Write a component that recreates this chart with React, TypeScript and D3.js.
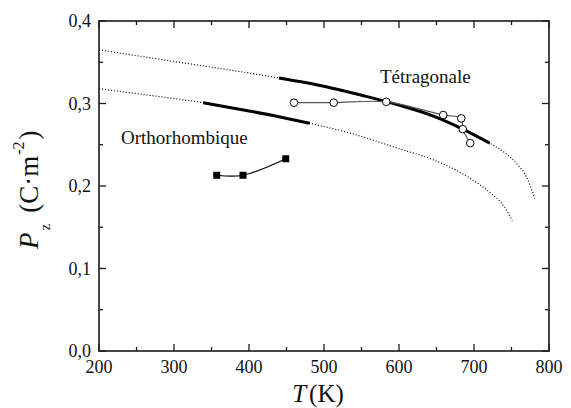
import React from "react";
import * as d3 from "d3";

// Theoretical curve, tetragonal phase
const tetraT = [200, 250, 300, 350, 400, 440, 500, 550, 600, 645, 685, 721, 740, 757, 770, 781];
const tetraP = [0.365, 0.358, 0.351, 0.344, 0.337, 0.331, 0.321, 0.310, 0.298, 0.285, 0.269, 0.252, 0.241, 0.227, 0.211, 0.185];
const tetraThick = [440, 721];

// Theoretical curve, orthorhombic phase
const orthoT = [200, 250, 300, 339, 400, 440, 481, 535, 601, 645, 690, 720, 741, 751];
const orthoP = [0.318, 0.312, 0.306, 0.301, 0.291, 0.284, 0.276, 0.264, 0.245, 0.232, 0.212, 0.193, 0.174, 0.158];
const orthoThick = [339, 481];

// Experimental points
const circT = [460, 513, 583, 659, 683, 685, 695];
const circP = [0.301, 0.301, 0.302, 0.286, 0.282, 0.269, 0.252];
const sqT = [357, 392, 449];
const sqP = [0.213, 0.213, 0.233];

const xMajor = [200, 300, 400, 500, 600, 700, 800];
const xMinor = [250, 350, 450, 550, 650, 750];
const yMajor = [0, 0.1, 0.2, 0.3, 0.4];
const yMinor = [0.05, 0.15, 0.25, 0.35];
const yLabels = ["0,0", "0,1", "0,2", "0,3", "0,4"];

const W = 571;
const H = 408;
const L = 99, R = 549, T = 21, B = 351;

const FONT = '"Liberation Serif", Tinos, "DejaVu Serif", "Noto Serif", "Times New Roman", serif';

export default function App() {
  const x = d3.scaleLinear().domain([200, 800]).range([L, R]);
  const y = d3.scaleLinear().domain([0, 0.4]).range([B, T]);

  const zip = (a: number[], b: number[]) => a.map((v, i) => [v, b[i]] as [number, number]);
  const tetra = zip(tetraT, tetraP);
  const ortho = zip(orthoT, orthoP);
  const circ = zip(circT, circP);
  const sq = zip(sqT, sqP);

  const line = d3
    .line<[number, number]>()
    .x((d) => x(d[0]))
    .y((d) => y(d[1]))
    .curve(d3.curveMonotoneX);
  const smooth = d3
    .line<[number, number]>()
    .x((d) => x(d[0]))
    .y((d) => y(d[1]))
    .curve(d3.curveCatmullRom.alpha(0.5));

  const tetraBold = tetra.filter((d) => d[0] >= tetraThick[0] && d[0] <= tetraThick[1]);
  const orthoBold = ortho.filter((d) => d[0] >= orthoThick[0] && d[0] <= orthoThick[1]);

  const axisColor = "#1a1a1a";
  const majorLen = 7;
  const minorLen = 4;
  const ts = { fontFamily: FONT } as React.CSSProperties;

  return (
    <svg
      width={W}
      height={H}
      style={{ position: "absolute", left: 0, top: 0, background: "#fff", fontFamily: FONT }}
    >
      <rect x={0} y={0} width={W} height={H} fill="#fff" />
      {/* curves */}
      <path d={line(tetra) || ""} fill="none" stroke="#000" strokeWidth={1.2} strokeDasharray="1 2" />
      <path d={line(ortho) || ""} fill="none" stroke="#000" strokeWidth={1.2} strokeDasharray="1 2" />
      <path d={line(tetraBold) || ""} fill="none" stroke="#000" strokeWidth={3} />
      <path d={line(orthoBold) || ""} fill="none" stroke="#000" strokeWidth={3} />

      {/* experimental tetragonal */}
      <path d={smooth(circ) || ""} fill="none" stroke="#555" strokeWidth={1.2} />
      {circ.map((d, i) => (
        <circle key={"c" + i} cx={x(d[0])} cy={y(d[1])} r={3.8} fill="#fff" stroke="#000" strokeWidth={1} />
      ))}

      {/* experimental orthorhombic */}
      <path d={smooth(sq) || ""} fill="none" stroke="#000" strokeWidth={1.2} />
      {sq.map((d, i) => (
        <rect key={"s" + i} x={x(d[0]) - 3.5} y={y(d[1]) - 3.5} width={7} height={7} fill="#000" />
      ))}

      {/* frame */}
      <rect x={L} y={T} width={R - L} height={B - T} fill="none" stroke={axisColor} strokeWidth={1.6} />

      {/* x ticks */}
      {xMajor.map((v) => (
        <g key={"xM" + v}>
          <line x1={x(v)} x2={x(v)} y1={B} y2={B - majorLen} stroke={axisColor} strokeWidth={1.3} />
          <line x1={x(v)} x2={x(v)} y1={T} y2={T + majorLen} stroke={axisColor} strokeWidth={1.3} />
          <text x={x(v)} y={373} fontSize={18} textAnchor="middle" fill="#111" style={ts}>
            {v}
          </text>
        </g>
      ))}
      {xMinor.map((v) => (
        <g key={"xm" + v}>
          <line x1={x(v)} x2={x(v)} y1={B} y2={B - minorLen} stroke={axisColor} strokeWidth={1.3} />
          <line x1={x(v)} x2={x(v)} y1={T} y2={T + minorLen} stroke={axisColor} strokeWidth={1.3} />
        </g>
      ))}

      {/* y ticks */}
      {yMajor.map((v, i) => (
        <g key={"yM" + v}>
          <line x1={L} x2={L + majorLen} y1={y(v)} y2={y(v)} stroke={axisColor} strokeWidth={1.3} />
          <line x1={R} x2={R - majorLen} y1={y(v)} y2={y(v)} stroke={axisColor} strokeWidth={1.3} />
          <text x={91} y={y(v) + 6} fontSize={18} textAnchor="end" fill="#111" style={ts}>
            {yLabels[i]}
          </text>
        </g>
      ))}
      {yMinor.map((v) => (
        <g key={"ym" + v}>
          <line x1={L} x2={L + minorLen} y1={y(v)} y2={y(v)} stroke={axisColor} strokeWidth={1.3} />
          <line x1={R} x2={R - minorLen} y1={y(v)} y2={y(v)} stroke={axisColor} strokeWidth={1.3} />
        </g>
      ))}

      {/* annotations */}
      <text x={380} y={83} fontSize={19} fill="#111" style={ts}>Tétragonale</text>
      <text x={121} y={144} fontSize={19} fill="#111" style={ts}>Orthorhombique</text>

      {/* x title */}
      <text x={318} y={402} fontSize={25} textAnchor="middle" fill="#111" style={ts}>
        <tspan fontStyle="italic">T</tspan>
        <tspan dx={3}>(K)</tspan>
      </text>

      {/* y title */}
      <text transform="translate(38,249) rotate(-90)" fontSize={27} fill="#111" style={ts}>
        <tspan fontStyle="italic">P</tspan>
        <tspan fontSize={15} dy={12} dx={2}>z</tspan>
        <tspan dy={-12} dx={11}>(C·m</tspan>
        <tspan fontSize={16} dy={-14} dx={1}>-2</tspan>
        <tspan dy={14} dx={2}>)</tspan>
      </text>
    </svg>
  );
}
